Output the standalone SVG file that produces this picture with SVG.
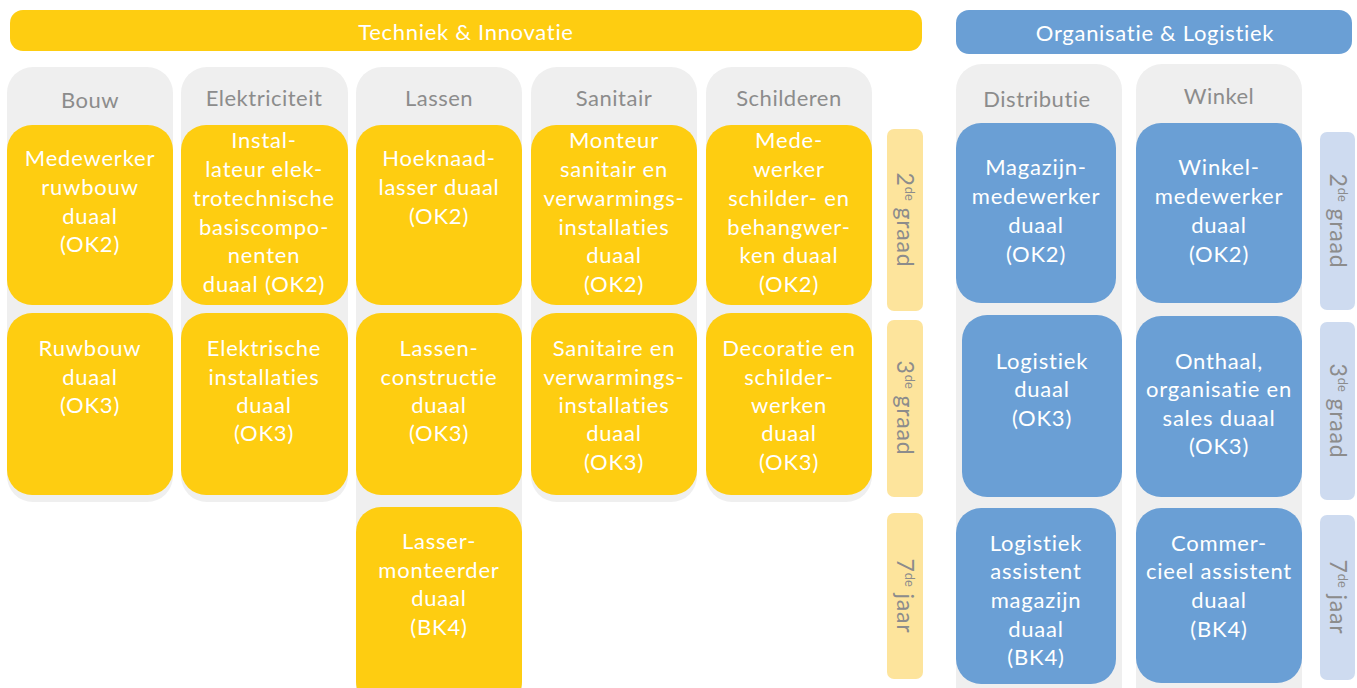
<svg xmlns="http://www.w3.org/2000/svg" width="1357" height="688" viewBox="0 0 1357 688">
<style>
text{font-family:Lato,"Noto Sans","Liberation Sans",sans-serif;text-anchor:middle}
.bar-y{fill:#FECD11}
.bar-b{fill:#6A9FD5}
.col{fill:#EFEFEF}
.cy{fill:#FECD11}
.cb{fill:#6A9FD5}
.lab-y{fill:#FDE49C}
.lab-b{fill:#CEDBF0}
.bt{fill:#FFFFFF;font-size:22px;letter-spacing:0.7px}
.hd{fill:#8C8C8C;font-size:22px;letter-spacing:0.5px}
.ct{fill:#FFFFFF;font-size:22px;letter-spacing:0.8px}
.side{fill:#8C8C8C;font-size:23px;letter-spacing:0.8px}
.sup{font-size:13px;letter-spacing:0}
</style>
<g id="banner-techniek"><rect class="bar-y" x="10" y="10" width="912" height="41" rx="13"/><text class="bt" x="466" y="40">Techniek &amp; Innovatie</text></g>
<g id="banner-organisatie"><rect class="bar-b" x="956" y="10" width="396" height="44" rx="13"/><text class="bt" x="1155" y="41">Organisatie &amp; Logistiek</text></g>

<g id="col-bouw"><rect class="col" x="7" y="67" width="166" height="435" rx="26"/><text class="hd" x="90" y="108">Bouw</text></g>
<g id="col-elektriciteit"><rect class="col" x="181" y="67" width="167" height="435" rx="26"/><text class="hd" x="264" y="106">Elektriciteit</text></g>
<g id="col-lassen"><rect class="col" x="356" y="67" width="166" height="660" rx="26"/><text class="hd" x="439" y="106">Lassen</text></g>
<g id="col-sanitair"><rect class="col" x="531" y="67" width="166" height="435" rx="26"/><text class="hd" x="614" y="106">Sanitair</text></g>
<g id="col-schilderen"><rect class="col" x="706" y="67" width="166" height="435" rx="26"/><text class="hd" x="789" y="106">Schilderen</text></g>
<g id="col-distributie"><rect class="col" x="956" y="64" width="166" height="660" rx="26"/><text class="hd" x="1037" y="107">Distributie</text></g>
<g id="col-winkel"><rect class="col" x="1136" y="64" width="166" height="660" rx="26"/><text class="hd" x="1219" y="104">Winkel</text></g>

<g id="bouw-ok2"><rect class="cy" x="7" y="125" width="166" height="180" rx="25"/><text class="ct"><tspan x="90" y="166">Medewerker</tspan><tspan x="90" y="195">ruwbouw</tspan><tspan x="90" y="224">duaal</tspan><tspan x="90" y="252">(OK2)</tspan></text></g>
<g id="bouw-ok3"><rect class="cy" x="7" y="313" width="166" height="182" rx="25"/><text class="ct"><tspan x="90" y="356">Ruwbouw</tspan><tspan x="90" y="385">duaal</tspan><tspan x="90" y="413">(OK3)</tspan></text></g>

<g id="elek-ok2"><rect class="cy" x="181" y="125" width="167" height="180" rx="25"/><text class="ct"><tspan x="264" y="148">Instal-</tspan><tspan x="264" y="177">lateur elek-</tspan><tspan x="264" y="206">trotechnische</tspan><tspan x="264" y="235">basiscompo-</tspan><tspan x="264" y="263">nenten</tspan><tspan x="264" y="292">duaal (OK2)</tspan></text></g>
<g id="elek-ok3"><rect class="cy" x="181" y="313" width="167" height="182" rx="25"/><text class="ct"><tspan x="264" y="356">Elektrische</tspan><tspan x="264" y="385">installaties</tspan><tspan x="264" y="413">duaal</tspan><tspan x="264" y="441">(OK3)</tspan></text></g>

<g id="lassen-ok2"><rect class="cy" x="356" y="125" width="166" height="180" rx="25"/><text class="ct"><tspan x="439" y="166">Hoeknaad-</tspan><tspan x="439" y="195">lasser duaal</tspan><tspan x="439" y="224">(OK2)</tspan></text></g>
<g id="lassen-ok3"><rect class="cy" x="356" y="313" width="166" height="182" rx="25"/><text class="ct"><tspan x="439" y="356">Lassen-</tspan><tspan x="439" y="385">constructie</tspan><tspan x="439" y="413">duaal</tspan><tspan x="439" y="441">(OK3)</tspan></text></g>
<g id="lassen-bk4"><rect class="cy" x="356" y="507" width="166" height="200" rx="25"/><text class="ct"><tspan x="439" y="549">Lasser-</tspan><tspan x="439" y="578">monteerder</tspan><tspan x="439" y="606">duaal</tspan><tspan x="439" y="635">(BK4)</tspan></text></g>

<g id="sanitair-ok2"><rect class="cy" x="531" y="125" width="166" height="180" rx="25"/><text class="ct"><tspan x="614" y="148">Monteur</tspan><tspan x="614" y="177">sanitair en</tspan><tspan x="614" y="206">verwarmings-</tspan><tspan x="614" y="235">installaties</tspan><tspan x="614" y="263">duaal</tspan><tspan x="614" y="292">(OK2)</tspan></text></g>
<g id="sanitair-ok3"><rect class="cy" x="531" y="313" width="166" height="182" rx="25"/><text class="ct"><tspan x="614" y="356">Sanitaire en</tspan><tspan x="614" y="385">verwarmings-</tspan><tspan x="614" y="413">installaties</tspan><tspan x="614" y="441">duaal</tspan><tspan x="614" y="470">(OK3)</tspan></text></g>

<g id="schilderen-ok2"><rect class="cy" x="706" y="125" width="166" height="180" rx="25"/><text class="ct"><tspan x="789" y="148">Mede-</tspan><tspan x="789" y="177">werker</tspan><tspan x="789" y="206">schilder- en</tspan><tspan x="789" y="235">behangwer-</tspan><tspan x="789" y="263">ken duaal</tspan><tspan x="789" y="292">(OK2)</tspan></text></g>
<g id="schilderen-ok3"><rect class="cy" x="706" y="313" width="166" height="182" rx="25"/><text class="ct"><tspan x="789" y="356">Decoratie en</tspan><tspan x="789" y="385">schilder-</tspan><tspan x="789" y="413">werken</tspan><tspan x="789" y="441">duaal</tspan><tspan x="789" y="470">(OK3)</tspan></text></g>

<g id="label-y-2"><rect class="lab-y" x="887" y="129" width="36" height="182" rx="7"/><text class="side" transform="translate(897,220) rotate(90)">2<tspan class="sup" dy="-8">de</tspan><tspan dy="8"> graad</tspan></text></g>
<g id="label-y-3"><rect class="lab-y" x="887" y="320" width="36" height="177" rx="7"/><text class="side" transform="translate(897,408) rotate(90)">3<tspan class="sup" dy="-8">de</tspan><tspan dy="8"> graad</tspan></text></g>
<g id="label-y-7"><rect class="lab-y" x="887" y="513" width="36" height="166" rx="7"/><text class="side" transform="translate(897,596) rotate(90)">7<tspan class="sup" dy="-8">de</tspan><tspan dy="8"> jaar</tspan></text></g>

<g id="dist-ok2"><rect class="cb" x="956" y="123" width="160" height="180" rx="25"/><text class="ct"><tspan x="1036" y="175">Magazijn-</tspan><tspan x="1036" y="204">medewerker</tspan><tspan x="1036" y="233">duaal</tspan><tspan x="1036" y="262">(OK2)</tspan></text></g>
<g id="dist-ok3"><rect class="cb" x="962" y="315" width="160" height="182" rx="25"/><text class="ct"><tspan x="1042" y="369">Logistiek</tspan><tspan x="1042" y="397">duaal</tspan><tspan x="1042" y="426">(OK3)</tspan></text></g>
<g id="dist-bk4"><rect class="cb" x="956" y="508" width="160" height="176" rx="25"/><text class="ct"><tspan x="1036" y="551">Logistiek</tspan><tspan x="1036" y="579">assistent</tspan><tspan x="1036" y="608">magazijn</tspan><tspan x="1036" y="637">duaal</tspan><tspan x="1036" y="665">(BK4)</tspan></text></g>

<g id="winkel-ok2"><rect class="cb" x="1136" y="123" width="166" height="180" rx="25"/><text class="ct"><tspan x="1219" y="175">Winkel-</tspan><tspan x="1219" y="204">medewerker</tspan><tspan x="1219" y="233">duaal</tspan><tspan x="1219" y="262">(OK2)</tspan></text></g>
<g id="winkel-ok3"><rect class="cb" x="1136" y="316" width="166" height="181" rx="25"/><text class="ct"><tspan x="1219" y="369">Onthaal,</tspan><tspan x="1219" y="397">organisatie en</tspan><tspan x="1219" y="426">sales duaal</tspan><tspan x="1219" y="454">(OK3)</tspan></text></g>
<g id="winkel-bk4"><rect class="cb" x="1136" y="508" width="166" height="175" rx="25"/><text class="ct"><tspan x="1219" y="551">Commer-</tspan><tspan x="1219" y="579">cieel assistent</tspan><tspan x="1219" y="608">duaal</tspan><tspan x="1219" y="637">(BK4)</tspan></text></g>

<g id="label-b-2"><rect class="lab-b" x="1320" y="132" width="35" height="178" rx="7"/><text class="side" transform="translate(1330,221) rotate(90)">2<tspan class="sup" dy="-8">de</tspan><tspan dy="8"> graad</tspan></text></g>
<g id="label-b-3"><rect class="lab-b" x="1320" y="322" width="35" height="178" rx="7"/><text class="side" transform="translate(1330,411) rotate(90)">3<tspan class="sup" dy="-8">de</tspan><tspan dy="8"> graad</tspan></text></g>
<g id="label-b-7"><rect class="lab-b" x="1320" y="515" width="35" height="165" rx="7"/><text class="side" transform="translate(1330,597) rotate(90)">7<tspan class="sup" dy="-8">de</tspan><tspan dy="8"> jaar</tspan></text></g>

<g id="connectors"/>
</svg>
